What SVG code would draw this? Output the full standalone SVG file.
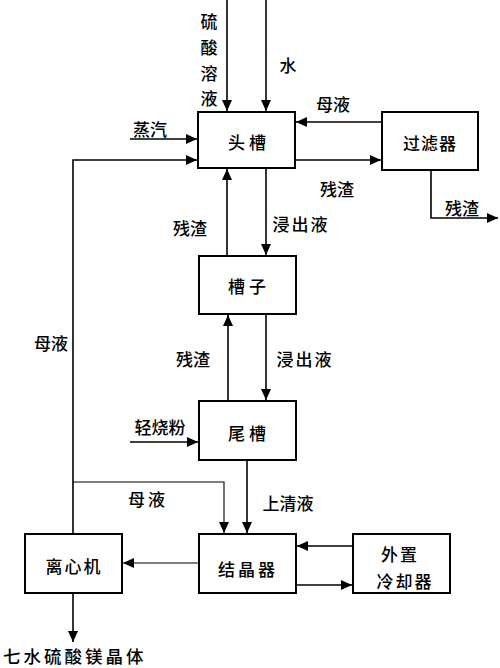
<svg xmlns="http://www.w3.org/2000/svg" width="500" height="668" viewBox="0 0 500 668">
<defs>
<style>
.box{fill:#fff;stroke:#000;stroke-width:2}
.ln{fill:none;stroke:#000;stroke-width:1.6}
.thin{fill:none;stroke:#000;stroke-width:1.1}
text{font-family:"Noto Sans CJK SC","Liberation Sans",sans-serif;font-size:17px;fill:#000;text-anchor:middle;dominant-baseline:central;font-weight:500}
text.start{text-anchor:start;font-size:17.5px}
</style>
<marker id="ar" markerUnits="userSpaceOnUse" markerWidth="12" markerHeight="10" refX="11" refY="5" orient="auto">
<path d="M0,0 L11,5 L0,10 z" fill="#000"/>
</marker>
</defs>
<rect width="500" height="668" fill="#fff"/>
<g id="connectors">
<path class="ln" d="M227,0 V111" marker-end="url(#ar)"/>
<path class="ln" d="M266,0 V111" marker-end="url(#ar)"/>
<path class="ln" d="M382,122 H296" marker-end="url(#ar)"/>
<path class="ln" d="M296,160 H381" marker-end="url(#ar)"/>
<path class="ln" d="M431,171 V218 H498" marker-end="url(#ar)"/>
<path class="ln" d="M130,139 H197" marker-end="url(#ar)"/>
<path class="ln" d="M73,534 V160 H197" marker-end="url(#ar)"/>
<path class="ln" d="M227,256 V169" marker-end="url(#ar)"/>
<path class="ln" d="M266,168 V255" marker-end="url(#ar)"/>
<path class="ln" d="M228,401 V315" marker-end="url(#ar)"/>
<path class="ln" d="M266,314 V400" marker-end="url(#ar)"/>
<path class="ln" d="M130,442 H198" marker-end="url(#ar)"/>
<path class="thin" d="M73,482 H224 V533" marker-end="url(#ar)"/>
<path class="ln" d="M247,461 V533" marker-end="url(#ar)"/>
<path class="thin" d="M199,563 H123" marker-end="url(#ar)"/>
<path class="ln" d="M353,546 H297" marker-end="url(#ar)"/>
<path class="ln" d="M297,585 H352" marker-end="url(#ar)"/>
<path class="ln" d="M73,594 V642" marker-end="url(#ar)"/>
</g>
<g id="toutank"><rect class="box" x="198" y="112" width="97" height="56"/><text x="247" y="141">头 槽</text></g>
<g id="filter"><rect class="box" x="382" y="112" width="96" height="58"/><text x="430" y="142" letter-spacing="1">过滤器</text></g>
<g id="caozi"><rect class="box" x="199" y="256" width="97" height="58"/><text x="247" y="285">槽 子</text></g>
<g id="weitank"><rect class="box" x="199" y="401" width="97" height="59"/><text x="247" y="432">尾 槽</text></g>
<g id="centrifuge"><rect class="box" x="25" y="534" width="97" height="59"/><text x="74" y="565" letter-spacing="2">离心机</text></g>
<g id="crystallizer"><rect class="box" x="199" y="534" width="97" height="59"/><text x="248" y="568" letter-spacing="3">结晶器</text></g>
<g id="cooler"><rect class="box" x="353" y="534" width="97" height="59"/><text x="400" y="553" letter-spacing="2">外置</text><text x="405" y="580" letter-spacing="2">冷却器</text></g>
<g id="labels">
<text x="209" y="20">硫</text>
<text x="209" y="46">酸</text>
<text x="209" y="72">溶</text>
<text x="209" y="97">液</text>
<text x="288" y="64">水</text>
<text x="333" y="103">母液</text>
<text x="150" y="128">蒸汽</text>
<text x="337" y="188">残渣</text>
<text x="462" y="207">残渣</text>
<text x="190" y="227">残渣</text>
<text x="301" y="223" letter-spacing="2">浸出液</text>
<text x="305" y="358" letter-spacing="2">浸出液</text>
<text x="193" y="358">残渣</text>
<text x="51" y="342">母液</text>
<text x="160" y="426">轻烧粉</text>
<text x="148" y="498" letter-spacing="3">母液</text>
<text x="288" y="502">上清液</text>
<text class="start" x="3" y="655" letter-spacing="3">七水硫酸镁晶体</text>
</g>
</svg>
